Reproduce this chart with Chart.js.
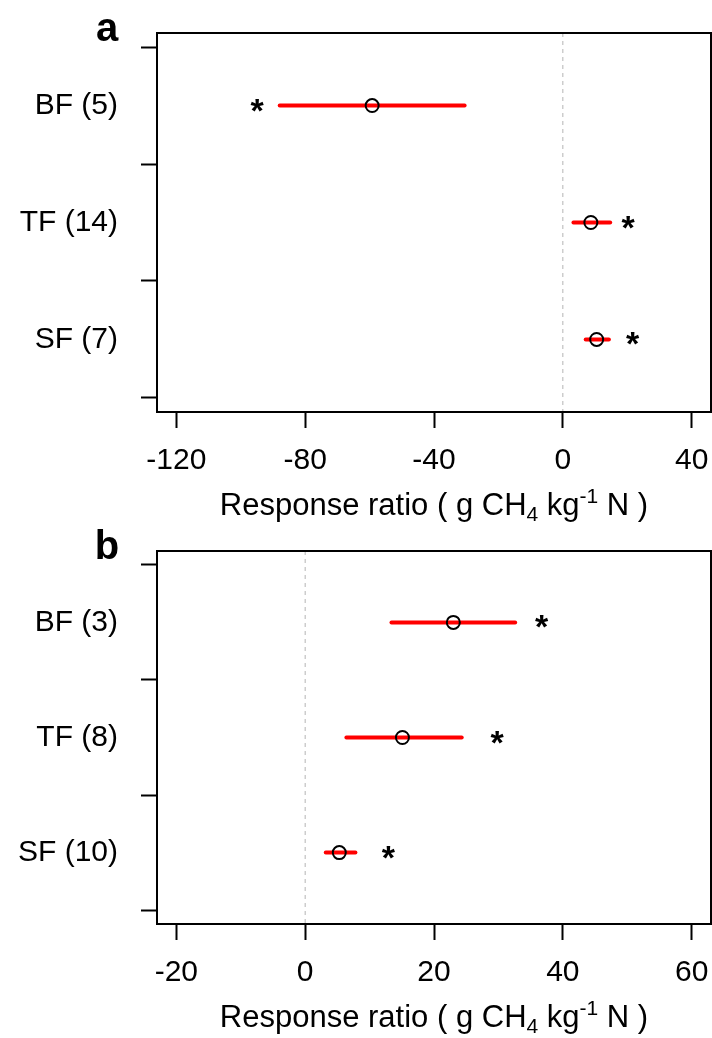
<!DOCTYPE html>
<html>
<head>
<meta charset="utf-8">
<script src="https://cdn.jsdelivr.net/npm/chart.js@4.4.1/dist/chart.umd.min.js"></script>
<style>
  body { margin: 0; background: #fff; }
  canvas { position: absolute; left: 0; }
  #chartA { top: 0; }
  #chartB { top: 518px; }
</style>
</head>
<body>
<canvas id="chartA" width="712" height="530"></canvas>
<canvas id="chartB" width="712" height="520"></canvas>
<script>
// panel a
const categoriasA = ['BF (5)', 'TF (14)', 'SF (7)'];
const mediaA = [-59.2, 8.7, 10.5];
const inferiorA = [-87.9, 3.3, 7.1];
const superiorA = [-30.5, 14.7, 14.3];
const asteriscoA = [-94.9, 20.3, 21.7];
const ticksA = [-120, -80, -40, 0, 40];
const rangoA = [-126, 46];

// panel b
const categoriasB = ['BF (3)', 'TF (8)', 'SF (10)'];
const mediaB = [23.0, 15.1, 5.3];
const inferiorB = [13.4, 6.4, 3.2];
const superiorB = [32.6, 24.3, 7.8];
const asteriscoB = [36.7, 29.8, 12.9];
const ticksB = [-20, 0, 20, 40, 60];
const rangoB = [-23, 63];

const fuente = '"Liberation Sans", Arial, sans-serif';

// draws the asterisks, the panel letter, the box and the axis title
const extras = {
    id: 'extras',
    afterDatasetsDraw(chart, args, opts) {
        const ctx = chart.ctx;
        const area = chart.chartArea;
        ctx.save();
        ctx.fillStyle = '#000';

        // asterisks
        const meta = chart.getDatasetMeta(opts.asterisco);
        ctx.font = 'bold 34px ' + fuente;
        ctx.textAlign = 'center';
        ctx.textBaseline = 'alphabetic';
        meta.data.forEach(function(p) {
            ctx.fillText('*', p.x, p.y + 16);
        });

        // box
        ctx.strokeStyle = '#000';
        ctx.lineWidth = 2;
        ctx.strokeRect(area.left, area.top, area.right - area.left, area.bottom - area.top);

        // panel letter
        ctx.font = 'bold 40px ' + fuente;
        ctx.textAlign = 'center';
        ctx.fillText(opts.letra, 107, area.top + 8);

        // axis title with sub / superscript
        const partes = [
            { t: 'Response ratio ( g CH', s: 31, dy: 0 },
            { t: '4', s: 21, dy: 6 },
            { t: ' kg', s: 31, dy: 0 },
            { t: '-1', s: 21, dy: -12 },
            { t: ' N )', s: 31, dy: 0 }
        ];
        let total = 0;
        partes.forEach(function(p) {
            ctx.font = p.s + 'px ' + fuente;
            p.w = ctx.measureText(p.t).width;
            total += p.w;
        });
        let x = (area.left + area.right) / 2 - total / 2;
        const base = area.bottom + 103;
        ctx.textAlign = 'left';
        partes.forEach(function(p) {
            ctx.font = p.s + 'px ' + fuente;
            ctx.fillText(p.t, x, base + p.dy);
            x += p.w;
        });
        ctx.restore();
    }
};

function crearPanel(id, categorias, media, inferior, superior, asterisco, ticksX, rango, letra, alto) {
    const datasets = [];
    const yMin = 0.38, yMax = categorias.length + 0.62;

    datasets.push({
        data: media.map(function(v, i) { return { x: v, y: i + 1 }; }),
        pointStyle: 'circle',
        pointRadius: 6.5,
        pointBorderWidth: 2,
        pointBorderColor: '#000',
        pointBackgroundColor: 'transparent',
        showLine: false,
        order: 0
    });

    categorias.forEach(function(c, i) {
        datasets.push({
            data: [{ x: inferior[i], y: i + 1 }, { x: superior[i], y: i + 1 }],
            showLine: true,
            borderColor: '#ff0000',
            borderWidth: 4,
            borderCapStyle: 'round',
            pointRadius: 0,
            order: 1
        });
    });

    datasets.push({
        data: [{ x: 0, y: yMin }, { x: 0, y: yMax }],
        showLine: true,
        borderColor: '#b4b4b4',
        borderWidth: 1,
        borderDash: [4, 4],
        pointRadius: 0,
        order: 2
    });

    const idxAsterisco = datasets.length;
    datasets.push({
        data: asterisco.map(function(v, i) { return { x: v, y: i + 1 }; }),
        pointRadius: 0,
        showLine: false,
        order: 3
    });

    const ticksY = [];
    for (let i = 0; i <= categorias.length; i++) {
        ticksY.push(i + 0.5);
        if (i < categorias.length) ticksY.push(i + 1);
    }

    new Chart(document.getElementById(id), {
        type: 'scatter',
        data: { datasets: datasets },
        options: {
            responsive: false,
            animation: false,
            layout: { autoPadding: false, padding: { top: 33, right: 1, left: 0, bottom: 0 } },
            plugins: {
                legend: { display: false },
                tooltip: { enabled: false },
                extras: { asterisco: idxAsterisco, letra: letra }
            },
            scales: {
                x: {
                    type: 'linear',
                    min: rango[0],
                    max: rango[1],
                    afterBuildTicks: function(scale) {
                        scale.ticks = ticksX.map(function(v) { return { value: v }; });
                    },
                    afterFit: function(scale) {
                        scale.height = alto;
                        scale.paddingLeft = 0;
                        scale.paddingRight = 0;
                    },
                    border: { display: false },
                    grid: {
                        drawOnChartArea: false,
                        drawTicks: true,
                        tickLength: 16,
                        tickWidth: 2,
                        tickColor: '#000'
                    },
                    ticks: {
                        color: '#000',
                        padding: 15,
                        maxRotation: 0,
                        font: { size: 30, family: fuente }
                    }
                },
                y: {
                    type: 'linear',
                    reverse: true,
                    min: yMin,
                    max: yMax,
                    afterBuildTicks: function(scale) {
                        scale.ticks = ticksY.map(function(v) { return { value: v }; });
                    },
                    afterFit: function(scale) {
                        scale.width = 157;
                        scale.paddingTop = 0;
                        scale.paddingBottom = 0;
                    },
                    border: { display: false },
                    grid: {
                        drawOnChartArea: false,
                        drawTicks: true,
                        tickLength: 16,
                        tickWidth: 2,
                        tickColor: function(ctx) {
                            return Number.isInteger(ctx.tick.value) ? 'transparent' : '#000';
                        }
                    },
                    ticks: {
                        color: '#000',
                        padding: 23,
                        autoSkip: false,
                        font: { size: 30, family: fuente },
                        callback: function(v) {
                            return Number.isInteger(v) ? categorias[v - 1] : '';
                        }
                    }
                }
            }
        },
        plugins: [extras]
    });
}

crearPanel('chartA', categoriasA, mediaA, inferiorA, superiorA, asteriscoA, ticksA, rangoA, 'a', 118);
crearPanel('chartB', categoriasB, mediaB, inferiorB, superiorB, asteriscoB, ticksB, rangoB, 'b', 114);
</script>
</body>
</html>
